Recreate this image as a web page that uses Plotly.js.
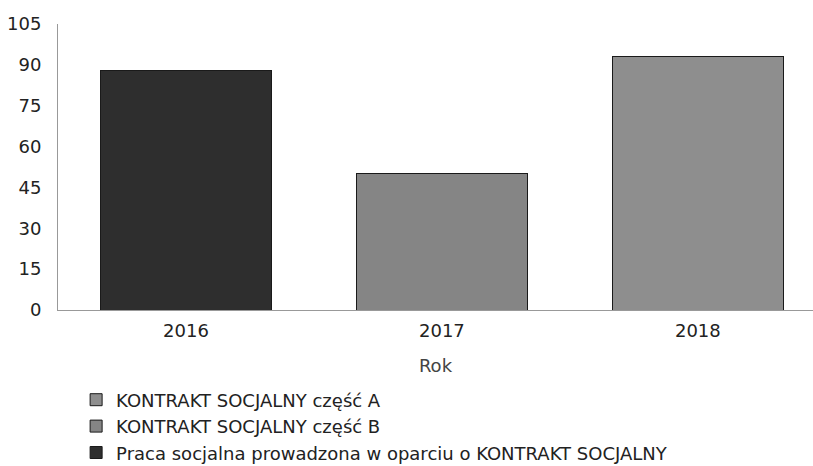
<!DOCTYPE html>
<html>
<head>
<meta charset="utf-8">
<script src="https://cdn.plot.ly/plotly-3.0.1.min.js"></script>
<style>
html,body{margin:0;padding:0;background:#fff;}
#chart{width:813px;height:466px;}
</style>
</head>
<body>
<div id="chart"></div>
<script>
const years = ['2016', '2017', '2018'];
const seriesNames = [
  'KONTRAKT SOCJALNY część A',
  'KONTRAKT SOCJALNY część B',
  'Praca socjalna prowadzona w oparciu o KONTRAKT SOCJALNY'
];
const seriesValues = [
  [null, null, 93],
  [null, 50, null],
  [88, null, null]
];
const seriesColors = ['#8e8e8e', '#858585', '#2e2e2e'];
const yTicks = [0, 15, 30, 45, 60, 75, 90, 105];

const traces = seriesNames.map((name, i) => ({
  type: 'bar',
  name: name,
  x: years,
  y: seriesValues[i],
  marker: {color: seriesColors[i], line: {color: '#1a1a1a', width: 1}},
  hoverinfo: 'x+y+name'
}));

const layout = {
  width: 813, height: 466,
  margin: {l: 58, r: 0, t: 24, b: 156, autoexpand: false},
  paper_bgcolor: '#ffffff', plot_bgcolor: '#ffffff',
  font: {family: 'DejaVu Sans, sans-serif', color: '#222', size: 18},
  barmode: 'stack',
  bargap: 0.33,
  showlegend: true,
  legend: {
    orientation: 'v', x: 0.024, xanchor: 'left', y: -0.25, yanchor: 'top',
    font: {size: 18, color: '#222'}, traceorder: 'normal', itemwidth: 30,
    bgcolor: 'rgba(0,0,0,0)', tracegroupgap: 0
  },
  xaxis: {
    type: 'category', range: [-0.5, 2.45],
    showline: true, linecolor: '#999', linewidth: 1,
    showgrid: false, zeroline: false,
    ticks: 'outside', ticklen: 4, tickcolor: 'rgba(0,0,0,0)',
    tickfont: {size: 18, color: '#222'},
    title: {text: 'Rok', font: {size: 18, color: '#444'}, standoff: 19}
  },
  yaxis: {
    range: [0, 105], tickvals: yTicks, ticktext: yTicks.map(String),
    showline: true, linecolor: '#999', linewidth: 1,
    showgrid: false, zeroline: false,
    ticks: 'outside', ticklen: 12, tickcolor: 'rgba(0,0,0,0)',
    tickfont: {size: 18, color: '#222'}
  }
};

Plotly.newPlot('chart', traces, layout, {displayModeBar: false, staticPlot: true});
</script>
</body>
</html>
